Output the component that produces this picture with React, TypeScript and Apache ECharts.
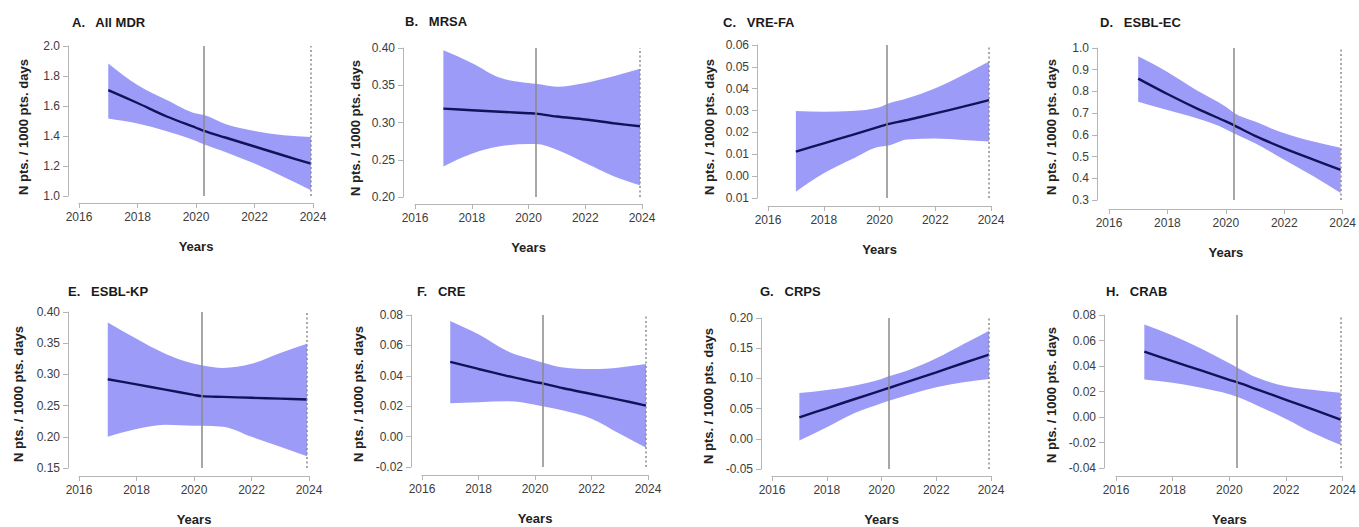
import React, { useEffect, useRef } from "react";
import * as echarts from "echarts";

// ---- data ----
const YEARS = [2017, 2018, 2019, 2020, 2020.27, 2021, 2022, 2023, 2023.93];
const INTERRUPTION = 2020.27;
const END_OF_STUDY = 2023.93;
const X_MIN = 2016;
const X_MAX = 2024;
const X_STEP = 2;

const A_FIT = [1.706, 1.62, 1.53, 1.455, 1.434, 1.39, 1.33, 1.27, 1.216];
const A_HI = [1.884, 1.74, 1.64, 1.55, 1.54, 1.48, 1.434, 1.405, 1.394];
const A_LO = [1.517, 1.483, 1.432, 1.367, 1.345, 1.294, 1.216, 1.127, 1.038];

const B_FIT = [0.3186, 0.3165, 0.3145, 0.3125, 0.3119, 0.308, 0.304, 0.299, 0.2949];
const B_HI = [0.397, 0.38, 0.36, 0.353, 0.352, 0.348, 0.353, 0.362, 0.372];
const B_LO = [0.241, 0.258, 0.268, 0.271, 0.271, 0.2635, 0.2456, 0.228, 0.2157];

const C_FIT = [0.0112, 0.015, 0.0188, 0.0227, 0.0237, 0.0257, 0.0287, 0.0318, 0.0348];
const C_HI = [0.0298, 0.0295, 0.0298, 0.0315, 0.033, 0.0356, 0.0402, 0.0463, 0.0524];
const C_LO = [-0.0071, 0.0013, 0.0077, 0.0135, 0.0139, 0.0168, 0.0172, 0.0165, 0.0158];

const D_FIT = [0.859, 0.788, 0.722, 0.662, 0.645, 0.595, 0.538, 0.486, 0.439];
const D_HI = [0.962, 0.89, 0.806, 0.729, 0.702, 0.661, 0.607, 0.569, 0.541];
const D_LO = [0.752, 0.714, 0.676, 0.626, 0.607, 0.561, 0.485, 0.409, 0.332];

const E_FIT = [0.2923, 0.284, 0.2757, 0.2672, 0.2651, 0.264, 0.2625, 0.2611, 0.2598];
const E_HI = [0.383, 0.357, 0.333, 0.317, 0.3147, 0.3104, 0.317, 0.3344, 0.349];
const E_LO = [0.2, 0.2124, 0.2193, 0.2177, 0.2177, 0.216, 0.2, 0.184, 0.169];

const F_FIT = [0.0492, 0.0445, 0.04, 0.0358, 0.035, 0.0318, 0.028, 0.0242, 0.0204];
const F_HI = [0.0761, 0.0673, 0.0564, 0.0503, 0.0488, 0.0455, 0.0444, 0.0455, 0.0477];
const F_LO = [0.0219, 0.0226, 0.0232, 0.021, 0.02, 0.0171, 0.0117, 0.0018, -0.0073];

const G_FIT = [0.0355, 0.0505, 0.0655, 0.0802, 0.0841, 0.095, 0.11, 0.1255, 0.1393];
const G_HI = [0.0758, 0.0808, 0.088, 0.099, 0.1034, 0.1139, 0.1332, 0.157, 0.179];
const G_LO = [-0.003, 0.019, 0.0422, 0.0587, 0.0631, 0.0731, 0.0852, 0.0935, 0.099];

const H_FIT = [0.0512, 0.0438, 0.0365, 0.0291, 0.0273, 0.0215, 0.0135, 0.0055, -0.002];
const H_HI = [0.0725, 0.064, 0.0538, 0.0422, 0.0389, 0.0307, 0.0242, 0.0212, 0.0191];
const H_LO = [0.0294, 0.0268, 0.023, 0.0178, 0.0158, 0.0088, -0.0015, -0.013, -0.022];

const TITLES = ["A.   All MDR", "B.   MRSA", "C.   VRE-FA", "D.   ESBL-EC", "E.   ESBL-KP", "F.   CRE", "G.   CRPS", "H.   CRAB"];
const Y_NAME = "N pts. / 1000 pts. days";
const X_NAME = "Years";

// y-axis ranges: [min, max, interval, decimals]
const Y_RANGES: [number, number, number, number][] = [
  [1.0, 2.0, 0.2, 1],
  [0.2, 0.4, 0.05, 2],
  [-0.01, 0.06, 0.01, 2],
  [0.3, 1.0, 0.1, 1],
  [0.15, 0.4, 0.05, 2],
  [-0.02, 0.08, 0.02, 2],
  [-0.05, 0.2, 0.05, 2],
  [-0.04, 0.08, 0.02, 2],
];

const SERIES = [
  [A_FIT, A_LO, A_HI],
  [B_FIT, B_LO, B_HI],
  [C_FIT, C_LO, C_HI],
  [D_FIT, D_LO, D_HI],
  [E_FIT, E_LO, E_HI],
  [F_FIT, F_LO, F_HI],
  [G_FIT, G_LO, G_HI],
  [H_FIT, H_LO, H_HI],
];

// ---- layout ----
const LAYOUT = [
  { grid: { left: 79, top: 46, width: 234, height: 150 }, yOff: 11, xOff: 7, title: [72, 16], yName: [23, 127] },
  { grid: { left: 415, top: 48, width: 227, height: 149 }, yOff: 12, xOff: 7, title: [405, 15], yName: [355, 128] },
  { grid: { left: 768, top: 45, width: 223, height: 153 }, yOff: 11, xOff: 8, title: [723, 16], yName: [709, 127] },
  { grid: { left: 1109, top: 48, width: 237, height: 152 }, yOff: 12, xOff: 9, title: [1100, 16], yName: [1051, 127] },
  { grid: { left: 79, top: 312, width: 230, height: 157 }, yOff: 11, xOff: 8, title: [68, 285], yName: [18, 394] },
  { grid: { left: 422, top: 315, width: 226, height: 152 }, yOff: 11, xOff: 8, title: [417, 285], yName: [358, 394] },
  { grid: { left: 772, top: 318, width: 219, height: 151 }, yOff: 11, xOff: 7, title: [760, 285], yName: [708, 396] },
  { grid: { left: 1116, top: 315, width: 229, height: 156 }, yOff: 12, xOff: 8, title: [1106, 285], yName: [1051, 395] },
];

const FONT = "'Liberation Sans', Arial, sans-serif";
const BAND = "#9c9cf8";
const LINE = "#12125a";
const AXIS = "#b5b5b5";
const TICK_TEXT = "#3c3c3c";

// monotone-x cubic path through pixel points (like d3.curveMonotoneX)
function monotoneSegments(p: number[][], moveFirst: boolean): string {
  const n = p.length;
  const t: number[] = new Array(n).fill(0);
  const slope = (a: number[], b: number[]) => (b[1] - a[1]) / (b[0] - a[0] || 1e-9);
  for (let i = 1; i < n - 1; i++) {
    const h0 = p[i][0] - p[i - 1][0];
    const h1 = p[i + 1][0] - p[i][0];
    const s0 = slope(p[i - 1], p[i]);
    const s1 = slope(p[i], p[i + 1]);
    const pp = (s0 * h1 + s1 * h0) / (h0 + h1);
    t[i] = (Math.sign(s0) + Math.sign(s1)) * Math.min(Math.abs(s0), Math.abs(s1), 0.5 * Math.abs(pp)) || 0;
  }
  if (n > 1) {
    t[0] = (3 * slope(p[0], p[1]) - t[1]) / 2;
    t[n - 1] = (3 * slope(p[n - 2], p[n - 1]) - t[n - 2]) / 2;
  }
  let d = (moveFirst ? "M" : "L") + p[0][0] + " " + p[0][1];
  for (let i = 0; i < n - 1; i++) {
    const dx = (p[i + 1][0] - p[i][0]) / 3;
    d +=
      " C" + (p[i][0] + dx) + " " + (p[i][1] + dx * t[i]) +
      " " + (p[i + 1][0] - dx) + " " + (p[i + 1][1] - dx * t[i + 1]) +
      " " + p[i + 1][0] + " " + p[i + 1][1];
  }
  return d;
}

export default function App() {
  const ref = useRef<HTMLDivElement>(null);
  useEffect(() => {
    if (!ref.current) return;
    const chart = echarts.init(ref.current, undefined, { renderer: "svg" });
    const grids: any[] = [];
    const xAxes: any[] = [];
    const yAxes: any[] = [];
    const series: any[] = [];
    const titles: any[] = [];
    const graphics: any[] = [];

    LAYOUT.forEach((lay, i) => {
      const [fit, lo, hi] = SERIES[i];
      const [ymin, ymax, ystep, dec] = Y_RANGES[i];
      grids.push({ ...lay.grid, containLabel: false });
      xAxes.push({
        type: "value",
        gridIndex: i,
        min: X_MIN,
        max: X_MAX,
        interval: X_STEP,
        offset: lay.xOff,
        name: X_NAME,
        nameLocation: "middle",
        nameGap: 37,
        nameTextStyle: { fontFamily: FONT, fontSize: 13, fontWeight: "bold", color: "#222" },
        axisLine: { show: true, onZero: false, lineStyle: { color: AXIS, width: 1 } },
        axisTick: { show: true, length: 5, lineStyle: { color: AXIS } },
        axisLabel: {
          fontFamily: FONT,
          fontSize: 12,
          color: TICK_TEXT,
          margin: 8,
          formatter: (v: number) => String(Math.round(v)),
        },
        splitLine: { show: false },
      });
      yAxes.push({
        type: "value",
        gridIndex: i,
        min: ymin,
        max: ymax,
        interval: ystep,
        offset: lay.yOff,
        axisLine: { show: true, onZero: false, lineStyle: { color: AXIS, width: 1 } },
        axisTick: { show: true, length: 5, lineStyle: { color: AXIS } },
        axisLabel: {
          fontFamily: FONT,
          fontSize: 12,
          color: TICK_TEXT,
          margin: 8,
          formatter: (v: number) => {
            const s = (i === 2 ? Math.abs(v) : v).toFixed(dec);
            return s === "-0.00" || s === "-0.0" ? s.slice(1) : s;
          },
        },
        splitLine: { show: false },
      });
      // confidence band as one smooth closed shape, through the axes' scales
      series.push({
        type: "custom",
        xAxisIndex: i,
        yAxisIndex: i,
        data: YEARS.map((x, k) => [x, lo[k], hi[k]]),
        encode: { x: 0, y: [1, 2] },
        silent: true,
        z: 1,
        renderItem: (params: any, api: any) => {
          if (params.dataIndex !== 0) return null;
          const up: number[][] = YEARS.map((x, k) => api.coord([x, hi[k]]));
          const dn: number[][] = YEARS.map((x, k) => api.coord([x, lo[k]]));
          const mirror = dn.slice().reverse().map((q) => [-q[0], q[1]]);
          let lowerPath = monotoneSegments(mirror, false);
          lowerPath = lowerPath.replace(/([MLC]?)(-?[\d.]+(?:e-?\d+)?) (-?[\d.]+(?:e-?\d+)?)/g, (_m, c, x, y) =>
            c + String(-parseFloat(x)) + " " + y
          );
          const d = monotoneSegments(up, true) + " " + lowerPath + " Z";
          return {
            type: "path",
            shape: { pathData: d },
            style: { fill: BAND, stroke: "none" },
          };
        },
      });
      series.push({
        type: "line",
        xAxisIndex: i,
        yAxisIndex: i,
        data: YEARS.map((x, k) => [x, fit[k]]),
        symbol: "none",
        smooth: 0.3,
        lineStyle: { color: LINE, width: 2.4 },
        silent: true,
        z: 3,
        markLine: {
          silent: true,
          symbol: ["none", "none"],
          label: { show: false },
          z: 4,
          data: [
            { xAxis: INTERRUPTION, lineStyle: { color: "#8a8a8a", width: 1.5, type: "solid" } },
            { xAxis: END_OF_STUDY, lineStyle: { color: "#8c8c8c", width: 1.5, type: [2, 2.5] } },
          ],
        },
      });
      titles.push({
        text: TITLES[i],
        left: lay.title[0],
        top: lay.title[1],
        padding: 0,
        textStyle: { fontFamily: FONT, fontSize: 13, fontWeight: "bold", color: "#1a1a1a" },
      });
      graphics.push({
        type: "text",
        x: lay.yName[0],
        y: lay.yName[1],
        rotation: Math.PI / 2,
        style: {
          text: Y_NAME,
          fontFamily: FONT,
          fontSize: 13,
          fontWeight: "bold",
          fill: "#222",
          align: "center",
          verticalAlign: "middle",
        },
      });
    });

    chart.setOption({
      animation: false,
      backgroundColor: "#ffffff",
      title: titles,
      grid: grids,
      xAxis: xAxes,
      yAxis: yAxes,
      series,
      graphic: graphics,
    });
    return () => chart.dispose();
  }, []);
  return (
    <div
      ref={ref}
      style={{ position: "fixed", left: 0, top: 0, width: 1359, height: 527, background: "#fff" }}
    />
  );
}
